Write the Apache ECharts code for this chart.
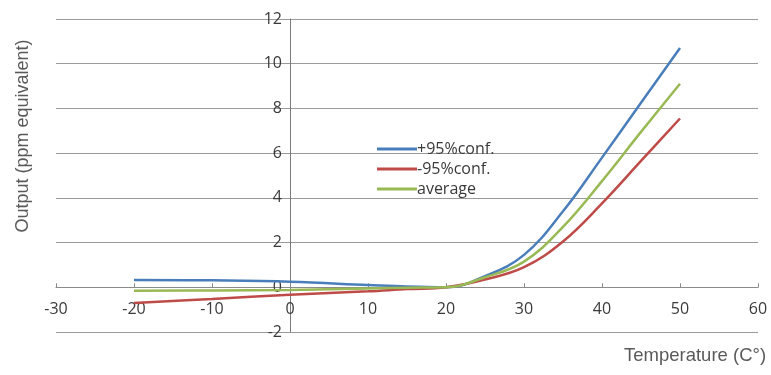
<!DOCTYPE html>
<html>
<head>
<meta charset="utf-8">
<script src="https://cdn.jsdelivr.net/npm/echarts@6/dist/echarts.min.js"></script>
<style>html,body{margin:0;padding:0;background:#fff}#c{width:771px;height:375px}</style>
</head>
<body>
<div id="c"></div>
<script>
const temps = [-20, -10, 0, 10, 15, 20, 25, 30, 35, 40, 45, 50];
const upper95 = [0.33, 0.31, 0.25, 0.10, 0.03, 0.0, 0.5, 1.45, 3.4, 5.8, 8.25, 10.7];
const lower95 = [-0.7, -0.52, -0.33, -0.18, -0.08, 0.0, 0.35, 0.9, 2.05, 3.75, 5.65, 7.55];
const average = [-0.15, -0.14, -0.12, -0.05, -0.02, 0.0, 0.45, 1.15, 2.7, 4.75, 6.95, 9.1];
const seriesNames = ['+95%conf.', '-95%conf.', 'average'];
const xTitle = 'Temperature (C°)';
const yTitle = 'Output (ppm equivalent)';

const pair = vals => temps.map((t, i) => [t, vals[i]]);
const colors = ['#4A7EBB', '#BE4B48', '#98B954'];
const W = 771, H = 375;
const G = {left: 56, right: 13, top: 19, bottom: 43};
const xMin = -30, xMax = 60, yMin = -2, yMax = 12;
const plotW = W - G.left - G.right, plotH = H - G.top - G.bottom;
// shift axes so they cross at zero (like the original)
const yAxisShift = plotW * (0 - xMin) / (xMax - xMin);
const xAxisShift = plotH * (0 - yMin) / (yMax - yMin);

const chart = echarts.init(document.getElementById('c'), null, {renderer: 'canvas'});
const labelFont = {fontFamily: 'Open Sans', fontSize: 16, color: '#3a3a3a'};
chart.setOption({
  animation: false,
  backgroundColor: '#fff',
  grid: G,
  legend: {
    orient: 'vertical', left: 372, top: 136, itemWidth: 40, itemHeight: 3, itemGap: 4,
    icon: 'rect',
    textStyle: {fontFamily: 'Open Sans', fontSize: 16, color: '#3a3a3a', padding: [0, 0, 0, -5]},
    data: seriesNames
  },
  xAxis: {
    type: 'value', min: xMin, max: xMax, interval: 10,
    offset: -xAxisShift,
    axisLine: {onZero: false, lineStyle: {color: '#8a8a8a', width: 1}},
    axisTick: {show: true, inside: true, length: 4, lineStyle: {color: '#8a8a8a'}},
    axisLabel: Object.assign({margin: 14}, labelFont),
    splitLine: {show: false}
  },
  yAxis: {
    type: 'value', min: yMin, max: yMax, interval: 2,
    offset: -yAxisShift,
    axisLine: {show: true, onZero: false, lineStyle: {color: '#7a7a7a', width: 1}},
    axisTick: {show: false},
    axisLabel: Object.assign({margin: 8}, labelFont),
    splitLine: {show: true, lineStyle: {color: '#9a9a9a', width: 1}}
  },
  series: seriesNames.map((n, k) => ({
    name: n, type: 'line', smooth: 0.4, showSymbol: false, symbol: 'none',
    data: pair([upper95, lower95, average][k]),
    lineStyle: {color: colors[k], width: 2.5},
    itemStyle: {color: colors[k]}
  })),
  graphic: [
    {type: 'text', left: 624, top: 346, style: {text: xTitle, font: '18.5px "Liberation Sans", Arial', fill: '#5a5a5a'}},
    {type: 'text', x: 23, y: 136, rotation: Math.PI / 2,
     style: {text: yTitle, font: '18px "Liberation Sans", Arial', fill: '#5a5a5a', align: 'center', verticalAlign: 'middle'}}
  ]
});
</script>
</body>
</html>
